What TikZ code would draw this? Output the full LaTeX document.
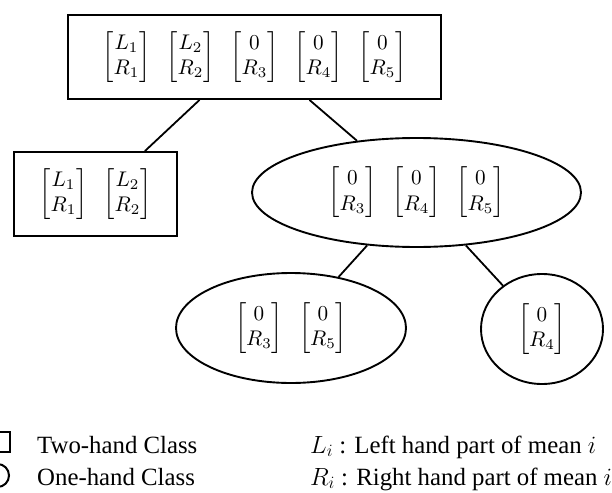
\documentclass[tikz,border=0pt]{standalone}
\usepackage{amsmath}
\usepackage{graphicx}
\usepackage{fontspec}
\newfontfamily\legendfont{Liberation Serif}
\usetikzlibrary{shapes.geometric}
\newcommand\mgap{\hspace{16pt}}
\newcommand\mvec[2]{\scalebox{2.12}{$\begin{bmatrix}#1\\#2\end{bmatrix}$}}
\begin{document}
\begin{tikzpicture}[x=1pt,y=-1pt,
  box/.style={draw,line width=1.9pt,rectangle,inner sep=0pt},
  oval/.style={draw,line width=1.9pt,ellipse,inner sep=0pt},
  link/.style={line width=1.8pt},
  legtext/.style={anchor=base west,inner sep=0pt,font=\fontsize{24.8}{28}\legendfont}]
\useasboundingbox (0,0) rectangle (612,492);
\node[box,minimum width=373pt,minimum height=84pt] (top) at (254.5,57)
  {\mvec{L_1}{R_1}\mgap\mvec{L_2}{R_2}\mgap\mvec{0}{R_3}\mgap\mvec{0}{R_4}\mgap\mvec{0}{R_5}};
\node[box,minimum width=163pt,minimum height=84pt] (left) at (95.5,194)
  {\mvec{L_1}{R_1}\mgap\mvec{L_2}{R_2}};
\node[oval,minimum width=329pt,minimum height=109pt] (mid) at (416.5,192.5)
  {\mvec{0}{R_3}\mgap\mvec{0}{R_4}\mgap\mvec{0}{R_5}};
\node[oval,minimum width=230pt,minimum height=110pt] (e1) at (291,328)
  {\mvec{0}{R_3}\mgap\mvec{0}{R_5}};
\node[oval,minimum width=122pt,minimum height=110pt] (e2) at (542,329)
  {\mvec{0}{R_4}};
\draw[link] (top.218.1) -- (left.41.5);
\draw[link] (top.-38.1) -- (mid.139);
\draw[link] (mid.227.3) -- (e1.47.3);
\draw[link] (mid.-47.3) -- (e2.132.2);
% legend
\node[draw,line width=2pt,rectangle,minimum size=20pt,inner sep=0pt] (sq) at (0,442) {};
\node[draw,line width=2pt,circle,minimum size=23pt,inner sep=0pt] (ci) at (-2.5,475.5) {};
\node[legtext] (t1) at (37,453) {Two-hand Class};
\node[legtext] (t2) at (37,485) {One-hand Class};
\node[legtext] (t3) at (310,453) {$L_i$ : Left hand part of mean $i$};
\node[legtext] (t4) at (310,485) {$R_i$ : Right hand part of mean $i$};
\end{tikzpicture}
\end{document}
